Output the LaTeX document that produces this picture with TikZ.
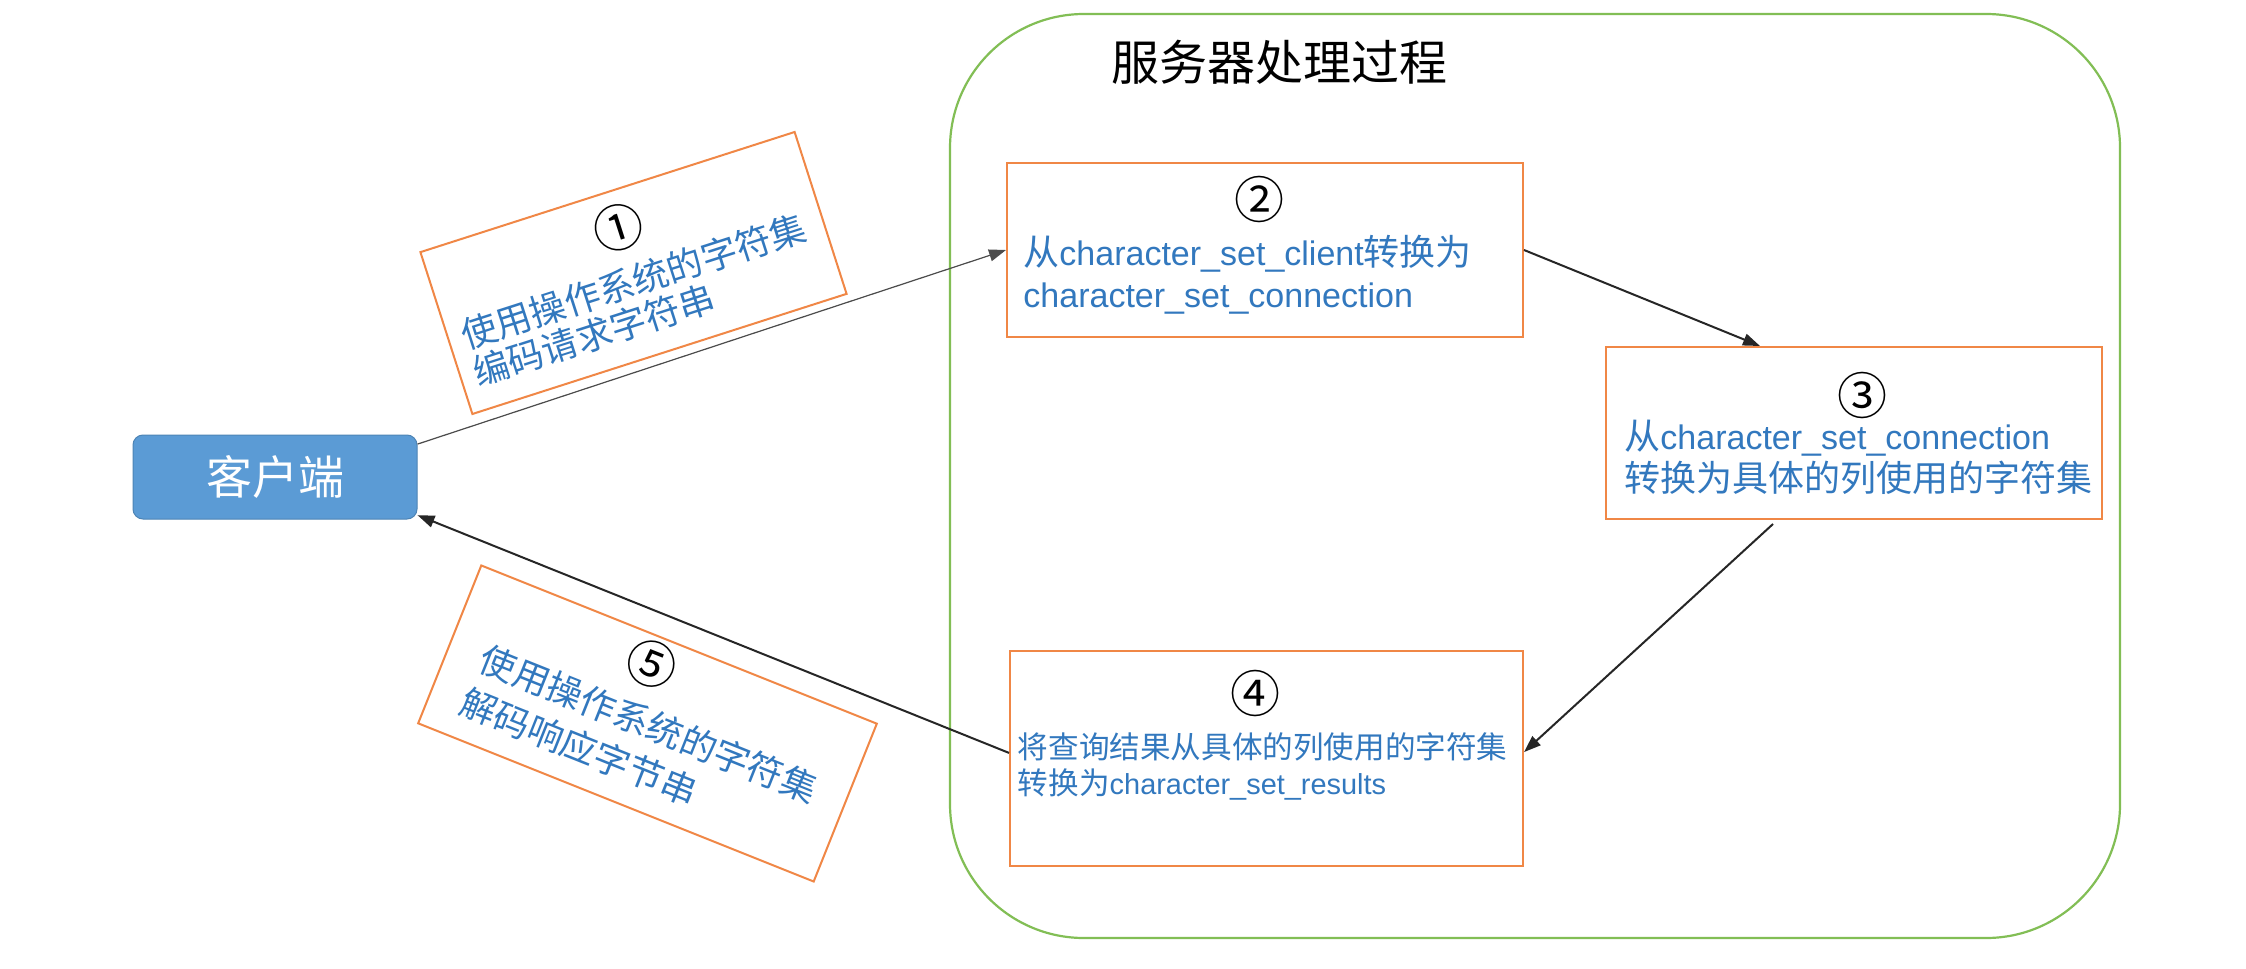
\documentclass[tikz,border=0pt]{standalone}
\usepackage{fontspec}
\setmainfont{Noto Sans CJK SC}
\newfontfamily\latinfont[Scale=0.945]{Liberation Sans}
\newcommand\latxt[1]{{\latinfont #1}}
\usetikzlibrary{arrows.meta,calc}
\definecolor{boxorange}{RGB}{240,135,70}
\definecolor{textblue}{RGB}{50,120,190}
\definecolor{clientblue}{RGB}{91,155,213}
\definecolor{groupgreen}{RGB}{130,190,85}
\begin{document}
\begin{tikzpicture}[x=0.5pt,y=-0.5pt,
  stepbox/.style={draw=boxorange, line width=1pt, inner sep=0pt, fill=white},
  numlabel/.style={font=\fontsize{25}{27}\selectfont, inner sep=0pt, text=black},
  linelabel/.style={font=\fontsize{18}{20}\selectfont, inner sep=0pt, text=textblue},
  smalllabel/.style={font=\fontsize{15.3}{17}\selectfont, inner sep=0pt, text=textblue},
  flow/.style={-{Triangle[length=8.5pt,width=6pt]}, line width=1pt, draw=black!85, fill=black!85},
]
\useasboundingbox (0,0) rectangle (2246,968);
\fill[white] (0,0) rectangle (2246,968);

% server container
\node[draw=groupgreen, line width=1.1pt, rounded corners=67pt,
      minimum width=585pt, minimum height=462pt, inner sep=0pt] (server) at (1535,476) {};
\node[font=\fontsize{24}{26}\selectfont, inner sep=0pt] (title) at (1279,62) {服务器处理过程};

% client
\node[fill=clientblue, draw=clientblue!85!black, line width=0.5pt, rounded corners=5pt,
      minimum width=142pt, minimum height=42pt, inner sep=0pt, text=white,
      font=\fontsize{23}{25}\selectfont] (client) at (275,477) {客户端};

% box 2
\node[stepbox, minimum width=258pt, minimum height=87pt] (box2) at (1265,250) {};
\node[numlabel] (n2) at ($(box2.center)+(-6,-50)$) {②};
\node[linelabel, anchor=base west] (t2a) at ($(box2.center)+(-242,15)$) {从\latxt{character\_set\_client}转换为};
\node[linelabel, anchor=base west] (t2b) at ($(box2.center)+(-242,57)$) {\latxt{character\_set\_connection}};

% box 3
\node[stepbox, minimum width=248pt, minimum height=86pt] (box3) at (1854,433) {};
\node[numlabel] (n3) at ($(box3.center)+(8,-38)$) {③};
\node[linelabel, anchor=base west] (t3a) at ($(box3.center)+(-230,16)$) {从\latxt{character\_set\_connection}};
\node[linelabel, anchor=base west] (t3b) at ($(box3.center)+(-230,58)$) {转换为具体的列使用的字符集};

% box 4
\node[stepbox, minimum width=256.5pt, minimum height=107.5pt] (box4) at (1266.5,758.5) {};
\node[numlabel] (n4) at ($(box4.center)+(-11.5,-65.5)$) {④};
\node[smalllabel, anchor=base west] (t4a) at ($(box4.center)+(-249,0)$) {将查询结果从具体的列使用的字符集};
\node[smalllabel, anchor=base west] (t4b) at ($(box4.center)+(-249,36)$) {转换为\latxt{character\_set\_results}};

% box 1 (rotated)
\begin{scope}[shift={(633.5,273)}, rotate=17.8, transform shape]
  \node[stepbox, minimum width=196.5pt, minimum height=85pt] (box1) at (0,0) {};
  \node[numlabel] (n1) at (0,-48) {①};
  \node[linelabel, anchor=west] (t1a) at (-183,8) {使用操作系统的字符集};
  \node[linelabel, anchor=west] (t1b) at (-183,47) {编码请求字符串};
\end{scope}

% box 5 (rotated)
\begin{scope}[shift={(647.5,723.5)}, rotate=-21.8, transform shape]
  \node[stepbox, minimum width=213pt, minimum height=85pt] (box5) at (0,0) {};
  \node[numlabel] (n5) at (-18,-57) {⑤};
  \node[linelabel, anchor=west] (t5a) at (-179,0) {使用操作系统的字符集};
  \node[linelabel, anchor=west] (t5b) at (-181,47) {解码响应字节串};
\end{scope}

% connectors
\draw[flow, line width=0.6pt, draw=black!70, fill=black!70] (client.13.6) -- (box2.west);
\draw[flow] (box2.east) -- ([xshift=-47pt]box3.north);
\draw[flow] ([xshift=-40.5pt,yshift=-2pt]box3.south) -- ([yshift=3.2pt]box4.east);
\draw[flow] ([yshift=2.8pt]box4.west) -- (client.-15);
\end{tikzpicture}
\end{document}
